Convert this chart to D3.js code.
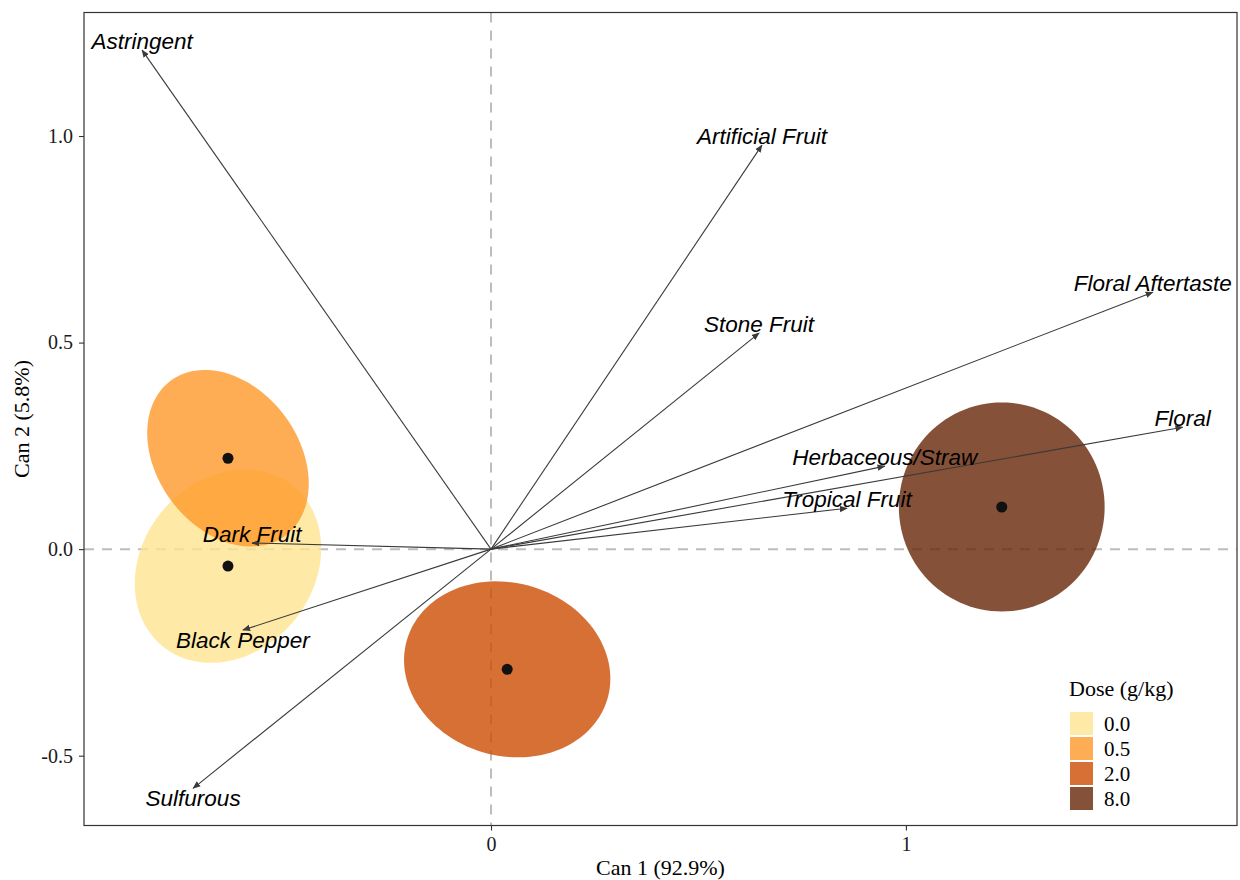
<!DOCTYPE html>
<html lang="en">
<head>
    <meta charset="UTF-8">
    <title>Canonical plot - Dose</title>
    <script src="https://d3js.org/d3.v7.min.js"></script>
    <style>
        body { margin: 0; background: #fff; }
        .tick-label { font-family: "Liberation Serif", "Times New Roman", serif; font-size: 20px; fill: #1a1a1a; }
        .axis-title { font-family: "Liberation Serif", "Times New Roman", serif; font-size: 22px; fill: #000; }
        .vec-label { font-family: "Liberation Sans", Arial, sans-serif; font-style: italic; font-size: 22.5px; fill: #000; }
        .legend-text { font-family: "Liberation Serif", "Times New Roman", serif; fill: #000; }
    </style>
</head>
<body>
<div id="chart"></div>
<script>
// attribute vectors (structure coefficients)
const attrNames = ["Astringent", "Artificial Fruit", "Floral Aftertaste", "Stone Fruit", "Floral",
                   "Herbaceous/Straw", "Tropical Fruit", "Dark Fruit", "Black Pepper", "Sulfurous"];
const attrCan1 = [-0.841, 0.653, 1.595, 0.646, 1.667, 0.949, 0.858, -0.576, -0.598, -0.718];
const attrCan2 = [1.208, 0.978, 0.622, 0.523, 0.295, 0.201, 0.099, 0.015, -0.196, -0.579];

// dose group means and confidence ellipses
const doses = ["0.0", "0.5", "2.0", "8.0"];
const doseCan1 = [-0.634, -0.634, 0.039, 1.231];
const doseCan2 = [-0.041, 0.220, -0.291, 0.102];
const ellMajor = [0.250, 0.233, 0.252, 0.253];
const ellMinor = [0.207, 0.171, 0.209, 0.248];
const ellAngle = [51.5, -54, -17, 90];
const doseColors = ["#fee391", "#fe9929", "#cc4c02", "#662506"];

const xTicks = [0, 1];
const yTicks = [-0.5, 0.0, 0.5, 1.0];
const yTickLabels = ["-0.5", "0.0", "0.5", "1.0"];

const width = 1240, height = 880;
const panelL = 84, panelR = 1237, panelT = 12.5, panelB = 825.5;

const svg = d3.select("#chart").append("svg")
    .attr("width", width)
    .attr("height", height);

const x = d3.scaleLinear().domain([-0.981, 1.798]).range([panelL, panelR]);
const y = d3.scaleLinear().domain([-0.669, 1.299]).range([panelB, panelT]);

// reference lines
svg.append("line")
    .attr("x1", x(0)).attr("x2", x(0)).attr("y1", panelT).attr("y2", panelB)
    .attr("stroke", "#bdbdbd").attr("stroke-width", 2).attr("stroke-dasharray", "10,8");
svg.append("line")
    .attr("x1", panelL).attr("x2", panelR).attr("y1", y(0)).attr("y2", y(0))
    .attr("stroke", "#bdbdbd").attr("stroke-width", 2).attr("stroke-dasharray", "10,8");

// ellipses
const line = d3.line().x(d => x(d[0])).y(d => y(d[1])).curve(d3.curveLinearClosed);
doses.forEach((d, i) => {
    const th = ellAngle[i] * Math.PI / 180;
    const pts = d3.range(0, 360, 3).map(deg => {
        const t = deg * Math.PI / 180;
        const u = ellMajor[i] * Math.cos(t), v = ellMinor[i] * Math.sin(t);
        return [doseCan1[i] + u * Math.cos(th) - v * Math.sin(th),
                doseCan2[i] + u * Math.sin(th) + v * Math.cos(th)];
    });
    svg.append("path")
        .attr("d", line(pts))
        .attr("fill", doseColors[i])
        .attr("fill-opacity", 0.8);
});

// group means
svg.selectAll(".mean")
    .data(doses)
    .enter()
    .append("circle")
    .attr("class", "mean")
    .attr("cx", (d, i) => x(doseCan1[i]))
    .attr("cy", (d, i) => y(doseCan2[i]))
    .attr("r", 5.5)
    .attr("fill", "#111");

// arrows
svg.append("defs").append("marker")
    .attr("id", "head")
    .attr("viewBox", "0 0 10 10")
    .attr("refX", 9).attr("refY", 5)
    .attr("markerWidth", 8).attr("markerHeight", 8)
    .attr("markerUnits", "userSpaceOnUse")
    .attr("orient", "auto")
    .append("path")
    .attr("d", "M0,1 L10,5 L0,9 Z")
    .attr("fill", "#3a3a3a");

svg.selectAll(".vec")
    .data(attrNames)
    .enter()
    .append("line")
    .attr("class", "vec")
    .attr("x1", x(0)).attr("y1", y(0))
    .attr("x2", (d, i) => x(attrCan1[i]))
    .attr("y2", (d, i) => y(attrCan2[i]))
    .attr("stroke", "#3a3a3a")
    .attr("stroke-width", 1.1)
    .attr("marker-end", "url(#head)");

svg.selectAll(".vec-label")
    .data(attrNames)
    .enter()
    .append("text")
    .attr("class", "vec-label")
    .attr("x", (d, i) => x(attrCan1[i]))
    .attr("y", (d, i) => y(attrCan2[i]) + (attrCan2[i] >= 0 ? -1 : 18))
    .attr("text-anchor", "middle")
    .text(d => d);

// panel border
svg.append("rect")
    .attr("x", panelL).attr("y", panelT)
    .attr("width", panelR - panelL).attr("height", panelB - panelT)
    .attr("fill", "none").attr("stroke", "#333").attr("stroke-width", 1.2);

// axes
const xAxis = svg.append("g").attr("transform", `translate(0,${panelB})`)
    .call(d3.axisBottom(x).tickValues(xTicks).tickSize(5).tickPadding(6).tickFormat(d3.format("d")));
const yAxis = svg.append("g").attr("transform", `translate(${panelL},0)`)
    .call(d3.axisLeft(y).tickValues(yTicks).tickSize(5).tickPadding(6)
        .tickFormat((d, i) => yTickLabels[i]));
[xAxis, yAxis].forEach(g => {
    g.select(".domain").remove();
    g.selectAll(".tick line").attr("stroke", "#333").attr("stroke-width", 1.1);
    g.selectAll(".tick text").attr("class", "tick-label").attr("fill", null).attr("font-size", null).attr("font-family", null);
});

svg.append("text")
    .attr("class", "axis-title")
    .attr("x", (panelL + panelR) / 2)
    .attr("y", 875)
    .attr("text-anchor", "middle")
    .text("Can 1 (92.9%)");

svg.append("text")
    .attr("class", "axis-title")
    .attr("transform", `translate(29,${(panelT + panelB) / 2}) rotate(-90)`)
    .attr("text-anchor", "middle")
    .text("Can 2 (5.8%)");

// legend
const legend = svg.append("g").attr("transform", "translate(1069,0)");
legend.append("text")
    .attr("class", "legend-text")
    .attr("x", 0).attr("y", 696)
    .style("font-size", "22px")
    .text("Dose (g/kg)");
legend.selectAll(".key")
    .data(doses)
    .enter()
    .append("rect")
    .attr("x", 1)
    .attr("y", (d, i) => 712 + i * 25)
    .attr("width", 23).attr("height", 23)
    .attr("fill", (d, i) => doseColors[i])
    .attr("fill-opacity", 0.8);
legend.selectAll(".key-label")
    .data(doses)
    .enter()
    .append("text")
    .attr("class", "legend-text")
    .attr("x", 35)
    .attr("y", (d, i) => 731 + i * 25)
    .style("font-size", "21px")
    .text(d => d);
</script>
</body>
</html>
